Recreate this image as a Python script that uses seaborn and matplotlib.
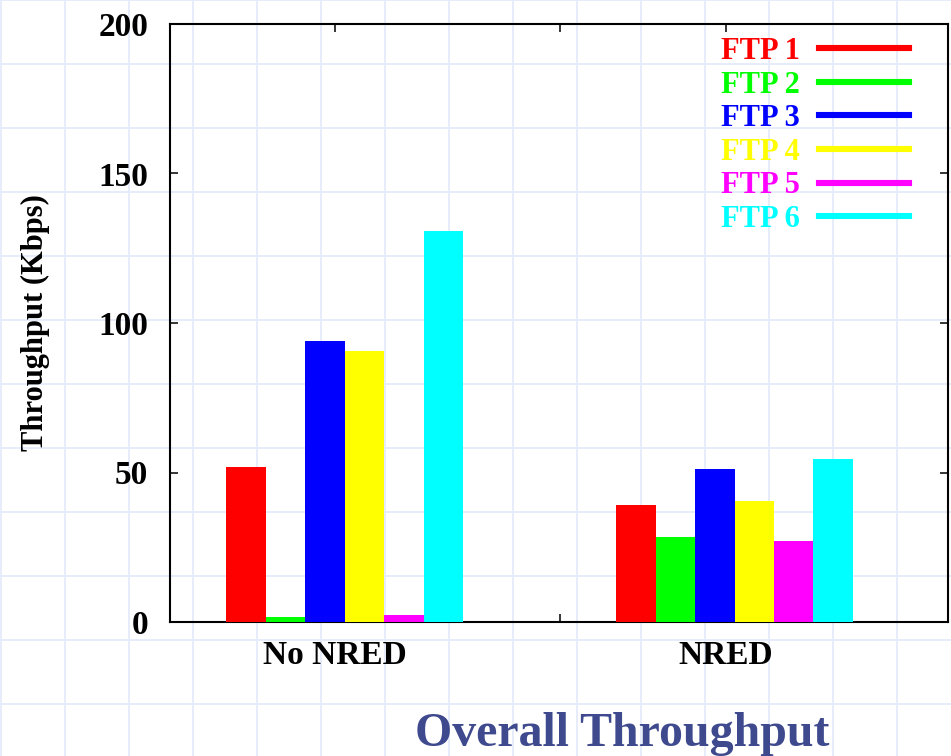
import numpy as np
import pandas as pd
import matplotlib
matplotlib.use("Agg")
import matplotlib.pyplot as plt
from matplotlib.lines import Line2D
import seaborn as sns

# Chart data
groups = ["No NRED", "NRED"]
flows = ["FTP 1", "FTP 2", "FTP 3", "FTP 4", "FTP 5", "FTP 6"]
no_nred = [51.8, 1.7, 94.0, 90.6, 2.4, 130.8]
nred = [39.1, 28.4, 51.2, 40.5, 27.1, 54.5]
colors = ["#ff0000", "#00ff00", "#0000ff", "#ffff00", "#ff00ff", "#00ffff"]
yticks = [0, 50, 100, 150, 200]

df = pd.DataFrame({
    "group": np.repeat(groups, len(flows)),
    "flow": flows * len(groups),
    "value": no_nred + nred,
})

plt.rcParams["font.family"] = "Liberation Serif"
plt.rcParams["font.weight"] = "bold"

W, H = 951, 756
fig = plt.figure(figsize=(W / 100, H / 100), dpi=100)
fig.patch.set_facecolor("white")

# graph-paper background over the whole figure
bg = fig.add_axes([0, 0, 1, 1], zorder=0)
bg.set_xlim(0, W)
bg.set_ylim(H, 0)
bg.axis("off")
for gx in range(1, W, 64):
    bg.axvline(gx, color="#e6ecfa", lw=1.4)
for gy in range(0, H, 64):
    bg.axhline(gy, color="#e6ecfa", lw=1.4)

ax = fig.add_axes([170 / W, 1 - 622 / H, 778 / W, 598 / H], zorder=1)
ax.set_facecolor("none")

sns.barplot(data=df, x="group", y="value", hue="flow", order=groups,
            hue_order=flows, palette=colors, width=0.608, saturation=1,
            linewidth=0, legend=False, ax=ax, zorder=3)

ax.set_xlim(-0.449, 1.548)
ax.set_ylim(0, 200)
ax.set_yticks(yticks)
ax.set_xticks([-0.026, 0.978])
ax.set_xticklabels(groups)
ax.set_xticks([0.552], minor=True)
ax.tick_params(axis="both", which="both", direction="in", length=5.8,
               width=1.1, top=True, right=True, labelsize=24)
ax.tick_params(axis="x", pad=13)
ax.tick_params(axis="y", pad=15.8)
for s in ax.spines.values():
    s.set_linewidth(1.5)
ax.set_xlabel("")
ax.set_ylabel("Throughput (Kbps)", fontsize=22, fontweight="bold", va="center")
ax.yaxis.set_label_coords((35 - 170) / 778, 0.5)

handles = [Line2D([], [], color=c, lw=4.4) for c in colors]
ax.legend(handles, flows, loc="upper right",
          bbox_to_anchor=(909 / W, 1 - 37 / H), bbox_transform=fig.transFigure,
          frameon=False, markerfirst=False, labelcolor=colors, fontsize=22,
          handlelength=2.95, handletextpad=0.62, labelspacing=0.15,
          borderpad=0, borderaxespad=0)

fig.text(622 / W, 1 - 734 / H, "Overall Throughput", ha="center", va="center",
         fontsize=34.5, fontweight="bold", color="#3f4a8e")

fig.savefig("out.png", dpi=100)
